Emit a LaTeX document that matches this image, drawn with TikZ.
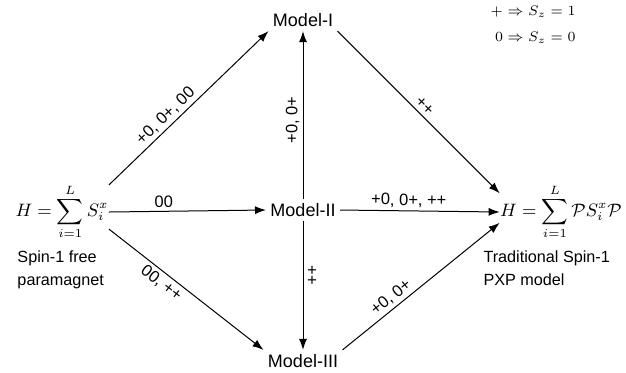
\documentclass[tikz,border=0pt]{standalone}
\usepackage{amsmath}
\usepackage{fontspec}
\setmainfont{Liberation Sans}
\usetikzlibrary{arrows.meta}

\begin{document}
\begin{tikzpicture}[x=0.5pt, y=-0.5pt, line width=0.5pt,
  model/.style={font=\fontsize{9}{11}\selectfont, inner sep=2pt},
  note/.style={font=\fontsize{8.1}{11.5}\selectfont, inner sep=2pt, align=left, anchor=north west},
  ham/.style={inner sep=0pt, font=\fontsize{9}{11}\selectfont},
  lbl/.style={font=\fontsize{8.25}{10}\selectfont, sloped, inner sep=1.5pt},
  arr/.style={-{Latex[length=5.5pt,width=4pt]}}]
  \useasboundingbox (0,0) rectangle (626,372);

  % models
  \node[model] (m1) at (303,20)  {Model-I};
  \node[model] (m2) at (303,210) {Model-II};
  \node[model] (m3) at (303,361) {Model-III};

  % hamiltonians
  \node[ham] (free) at (62,212)  {$H=\displaystyle\sum_{i=1}^{L}S_i^x$};
  \node[ham] (pxp)  at (561,212) {$H=\displaystyle\sum_{i=1}^{L}\mathcal{P}S_i^x\mathcal{P}$};

  \node[note] (freetxt) at (13,246)  {Spin-1 free\\paramagnet};
  \node[note] (pxptxt)  at (479,246) {Traditional Spin-1\\PXP model};

  % key
  \node[ham, font=\fontsize{7}{9}\selectfont, align=right, anchor=east] (key) at (576,25)
    {$+\Rightarrow S_z=1$\\[4pt]$0\Rightarrow S_z=0$};

  % arrows
  \draw[arr] (free.30) -- node[lbl, pos=0.4, above] {+0, 0+, 00} (m1.south west);
  \draw[arr] (free.east) -- node[lbl, pos=0.35, above] {00} (m2.west);
  \draw[arr] (free.-20) -- node[lbl, pos=0.38, below] {00, ++} (m3.north west);
  \draw[arr] (m1.south east) -- node[lbl, above] {++} (pxp.163);
  \draw[arr] (m2.east) -- node[lbl, pos=0.43, above] {+0, 0+, ++} (pxp.west);
  \draw[arr] (m3.north east) -- node[lbl, pos=0.35, above] {+0, 0+} (pxp.190);
  \draw[arr] (m2.north) -- node[lbl, pos=0.47, above] {+0, 0+} (m1.south);
  \draw[arr] (m2.south) -- node[lbl, pos=0.42, above] {++} (m3.north);
\end{tikzpicture}
\end{document}
